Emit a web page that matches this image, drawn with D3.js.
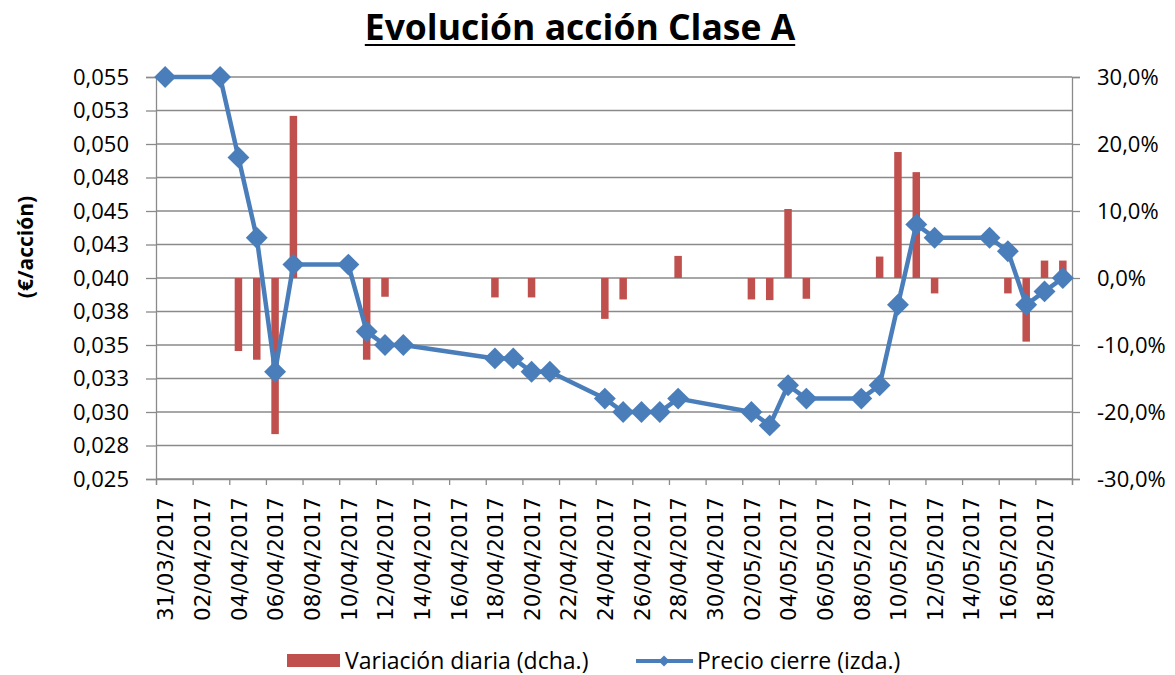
<!DOCTYPE html>
<html>
<head>
<meta charset="utf-8">
<script src="https://cdn.jsdelivr.net/npm/d3@7"></script>
<style>
  body { margin: 0; background: #fff; }
  text { font-family: "Open Sans", sans-serif; fill: #000; }
</style>
</head>
<body>
<svg id="chart" width="1175" height="675"></svg>
<script>
// trading days, closing price (left axis) and daily change in % (right axis)
var fechas = [ "31/03/2017", "03/04/2017", "04/04/2017", "05/04/2017", "06/04/2017",
               "07/04/2017", "10/04/2017", "11/04/2017", "12/04/2017", "13/04/2017",
               "18/04/2017", "19/04/2017", "20/04/2017", "21/04/2017", "24/04/2017",
               "25/04/2017", "26/04/2017", "27/04/2017", "28/04/2017", "02/05/2017",
               "03/05/2017", "04/05/2017", "05/05/2017", "08/05/2017", "09/05/2017",
               "10/05/2017", "11/05/2017", "12/05/2017", "15/05/2017", "16/05/2017",
               "17/05/2017", "18/05/2017", "19/05/2017" ];
var precio = [ 0.055, 0.055, 0.049, 0.043, 0.033, 0.041, 0.041, 0.036, 0.035, 0.035,
               0.034, 0.034, 0.033, 0.033, 0.031, 0.030, 0.030, 0.030, 0.031, 0.030,
               0.029, 0.032, 0.031, 0.031, 0.032, 0.038, 0.044, 0.043, 0.043, 0.042,
               0.038, 0.039, 0.040 ];
var variacion = [ 0, 0, -10.9, -12.2, -23.3, 24.2, 0, -12.2, -2.8, 0,
                  -2.9, 0, -2.9, 0, -6.1, -3.2, 0, 0, 3.3, -3.2,
                  -3.3, 10.3, -3.1, 0, 3.2, 18.8, 15.8, -2.3, 0, -2.3,
                  -9.5, 2.6, 2.6 ];

var ticksIzq = [ 0.025, 0.0275, 0.030, 0.0325, 0.035, 0.0375, 0.040,
                 0.0425, 0.045, 0.0475, 0.050, 0.0525, 0.055 ];
var etiquetasIzq = [ "0,025", "0,028", "0,030", "0,033", "0,035", "0,038", "0,040",
                     "0,043", "0,045", "0,048", "0,050", "0,053", "0,055" ];
var ticksDer = [ -30, -20, -10, 0, 10, 20, 30 ];
var fechaIni = "31/03/2017", fechaFin = "20/05/2017";

window.addEventListener( "load", makeChart );
function makeChart() {
    var parse = d3.utcParse( "%d/%m/%Y" ), fmt = d3.utcFormat( "%d/%m/%Y" );
    var svg = d3.select( "#chart" );
    var x0 = 156, x1 = 1072, yTop = 77, yBot = 479;
    var grid = "#8a8a8a";

    var scX = d3.scaleUtc().domain( [parse(fechaIni), parse(fechaFin)] ).range( [x0, x1] );
    var scY = d3.scaleLinear().domain( [0.025, 0.055] ).range( [yBot, yTop] );
    var scP = d3.scaleLinear().domain( [-30, 30] ).range( [yBot, yTop] );
    var halfDay = ( scX(d3.utcDay.offset(parse(fechaIni), 1)) - x0 ) / 2;
    var cx = d => scX( parse(d) ) + halfDay;

    var data = fechas.map( (f, i) => ({ f: f, p: precio[i], v: variacion[i] }) );

    // gridlines
    svg.append( "g" ).selectAll( "line" ).data( ticksIzq ).enter().append( "line" )
        .attr( "x1", x0 ).attr( "x2", x1 )
        .attr( "y1", scY ).attr( "y2", scY )
        .attr( "stroke", grid ).attr( "stroke-width", 1.3 );

    // left axis
    var axL = svg.append( "g" ).attr( "transform", "translate(" + x0 + ",0)" )
        .call( d3.axisLeft( scY ).tickValues( ticksIzq )
               .tickFormat( (d, i) => etiquetasIzq[i] ).tickSize( 10 ).tickPadding( 17 ) );
    // right axis
    var loc = d3.formatLocale( { decimal: ",", thousands: ".", grouping: [3],
                                 currency: ["", "€"], minus: "-" } );
    var axR = svg.append( "g" ).attr( "transform", "translate(" + x1 + ",0)" )
        .call( d3.axisRight( scP ).tickValues( ticksDer )
               .tickFormat( d => loc.format( ".1f" )( d ) + "%" ).tickSize( 8 ).tickPadding( 17 ) );
    // bottom axis: a tick every 2 days, label centred on its day
    var tickDias = d3.utcDay.range( parse(fechaIni), d3.utcDay.offset(parse(fechaFin), 1), 2 );
    var axB = svg.append( "g" ).attr( "transform", "translate(0," + yBot + ")" )
        .call( d3.axisBottom( scX ).tickValues( tickDias )
               .tickFormat( d => +d < +parse(fechaFin) ? fmt(d) : "" ).tickSize( 6 ) );
    axB.selectAll( "text" )
        .attr( "transform", "translate(" + halfDay + ",18) rotate(-90)" )
        .attr( "x", 0 ).attr( "y", 0 ).attr( "dy", "0.36em" )
        .attr( "text-anchor", "end" )
        .style( "font-family", "DejaVu Sans" ).style( "font-size", "21.5px" );

    [axL, axR, axB].forEach( function( a ) {
        a.select( ".domain" ).attr( "stroke", grid ).attr( "stroke-width", 1.3 );
        a.selectAll( ".tick line" ).attr( "stroke", grid ).attr( "stroke-width", 1.3 );
    } );
    axL.selectAll( "text" ).style( "font-size", "22px" ).attr( "fill", "#1a1a1a" );
    axR.selectAll( "text" ).style( "font-size", "22px" ).attr( "fill", "#1a1a1a" );
    axB.selectAll( "text" ).attr( "fill", "#000" );

    // bars: daily change
    svg.append( "g" ).selectAll( "rect" ).data( data.filter( d => d.v != 0 ) ).enter()
        .append( "rect" )
        .attr( "x", d => cx(d.f) - 3.75 ).attr( "width", 7.5 )
        .attr( "y", d => Math.min( scP(d.v), scP(0) ) )
        .attr( "height", d => Math.abs( scP(d.v) - scP(0) ) )
        .attr( "fill", "#c0504d" );

    // price line + diamonds
    var blue = "#4a7ebb";
    svg.append( "path" ).datum( data )
        .attr( "d", d3.line().x( d => cx(d.f) ).y( d => scY(d.p) ) )
        .attr( "fill", "none" ).attr( "stroke", blue ).attr( "stroke-width", 4.5 )
        .attr( "stroke-linejoin", "round" );
    var diamond = d3.symbol( d3.symbolSquare, 240 );
    svg.append( "g" ).selectAll( "path" ).data( data ).enter().append( "path" )
        .attr( "d", diamond )
        .attr( "transform", d => "translate(" + cx(d.f) + "," + scY(d.p) + ") rotate(45)" )
        .attr( "fill", blue );

    // title
    var t = svg.append( "text" ).attr( "x", 580 ).attr( "y", 40 )
        .attr( "text-anchor", "middle" )
        .style( "font-size", "35.5px" ).style( "font-weight", "bold" )
        .text( "Evolución acción Clase A" );
    var w = t.node().getComputedTextLength();
    svg.append( "line" ).attr( "x1", 580 - w/2 ).attr( "x2", 580 + w/2 )
        .attr( "y1", 45 ).attr( "y2", 45 ).attr( "stroke", "#000" ).attr( "stroke-width", 2.2 );

    // y title
    svg.append( "text" ).attr( "transform", "translate(33,247) rotate(-90)" )
        .attr( "text-anchor", "middle" )
        .style( "font-size", "21px" ).style( "font-weight", "bold" )
        .text( "(€/acción)" );

    // legend
    var lg = svg.append( "g" );
    lg.append( "rect" ).attr( "x", 287 ).attr( "y", 654 ).attr( "width", 53 ).attr( "height", 13 )
        .attr( "fill", "#c0504d" );
    lg.append( "text" ).attr( "x", 345 ).attr( "y", 669 ).style( "font-size", "23px" )
        .text( "Variación diaria (dcha.)" );
    lg.append( "line" ).attr( "x1", 636 ).attr( "x2", 693 ).attr( "y1", 661 ).attr( "y2", 661 )
        .attr( "stroke", blue ).attr( "stroke-width", 4 );
    lg.append( "path" ).attr( "d", d3.symbol( d3.symbolSquare, 60 )() )
        .attr( "transform", "translate(664,661) rotate(45)" ).attr( "fill", blue );
    lg.append( "text" ).attr( "x", 697 ).attr( "y", 669 ).style( "font-size", "23px" )
        .text( "Precio cierre (izda.)" );
}
</script>
</body>
</html>
